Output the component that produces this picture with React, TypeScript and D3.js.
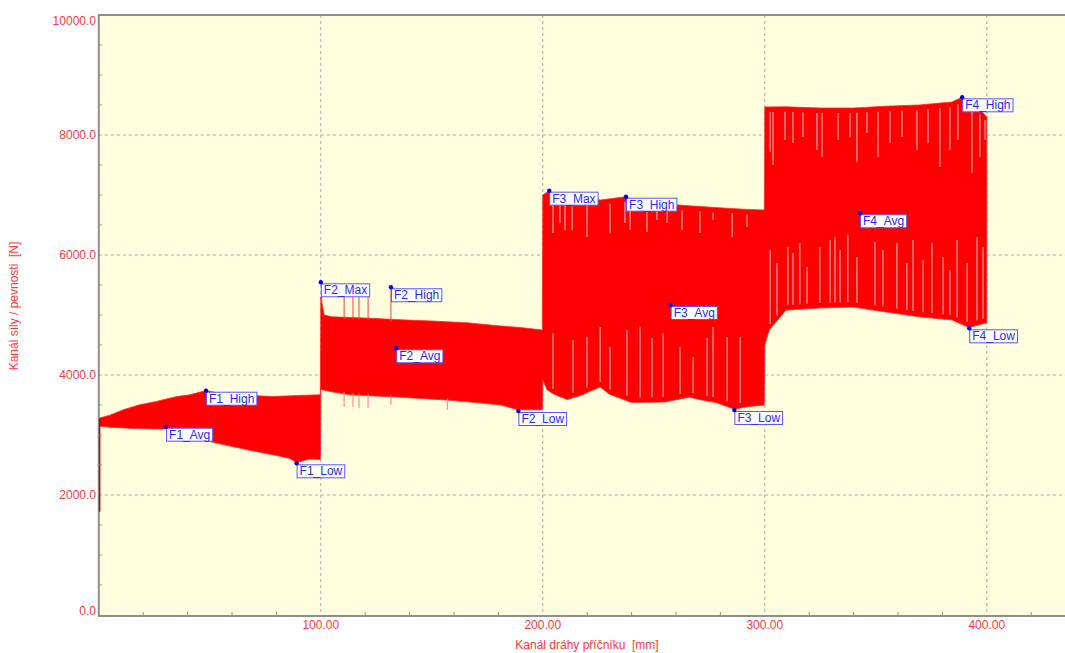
import React from "react";
import * as d3 from "d3";

// Axis ticks
const X_MAJOR_TICKS = [100, 200, 300, 400];
const Y_MAJOR_TICKS = [0, 2000, 4000, 6000, 8000, 10000];
const X_MINOR_STEP = 20;
const Y_MINOR_STEP = 500;

// Envelope of the force signal: [travel mm, force N]
const UPPER_ENVELOPE: [number, number][] = [
  [0.0, 3280], [2, 3300], [5, 3330], [11, 3420], [18, 3500], [26, 3560], [35, 3640], [41, 3670],
  [48.3, 3740], [55, 3690], [64, 3670], [78, 3640], [90, 3660], [99.8, 3670],
  [100.0, 5300], [101.5, 5000], [105, 4970], [120, 4950], [136, 4920], [150, 4900], [166, 4870],
  [180, 4820], [190, 4790], [199.8, 4750],
  [200.0, 7000], [202.9, 7072], [205, 6980], [210, 6950], [226, 6917], [237.5, 6972], [240, 6920],
  [255, 6850], [266, 6820], [278, 6790], [292, 6760], [299.8, 6750],
  [300.0, 8467], [309.5, 8470], [325, 8450], [340, 8450], [354.5, 8480], [369.4, 8500],
  [384.3, 8550], [388.9, 8628], [395, 8500], [400.0, 8300],
];

const LOWER_ENVELOPE: [number, number][] = [
  [0.0, 3150], [5, 3130], [15, 3110], [25, 3100], [30.3, 3100], [35, 3060], [41, 2970], [48, 2910],
  [56, 2840], [70, 2730], [80, 2660], [86, 2610], [89.1, 2540], [95, 2600], [99.8, 2590],
  [100.0, 3760], [105, 3720], [113, 3670], [136, 3630], [158, 3580], [170, 3540], [181, 3500],
  [189, 3420], [199.8, 3420],
  [200.0, 3920], [202, 3750], [205, 3680], [211, 3590], [218, 3670], [222, 3740], [225.8, 3800],
  [230, 3680], [240, 3540], [255, 3550], [266, 3630], [272, 3580], [278, 3540], [286.3, 3430],
  [292, 3470], [299.8, 3500],
  [300.0, 4500], [302, 4750], [309.5, 5080], [324.8, 5117], [339.7, 5133], [354.5, 5050],
  [369.4, 4970], [384.3, 4917], [392, 4790], [400.0, 4870],
];

// Start transient: [travel mm, minimum force N]
const START_DROP: [number, number] = [0.15, 1720];

// Single peaks above the upper envelope: [travel mm, force N]
const UP_SPIKES: [number, number][] = [
  [100.0, 5545], [110.5, 5317], [114.5, 5317], [117.2, 5317], [121.3, 5317], [131.6, 5462],
];

// Single dips below the lower envelope: [travel mm, force N]
const DOWN_SPIKES: [number, number][] = [
  [110.5, 3467], [114.5, 3467], [117.2, 3450], [121.3, 3450], [131.6, 3500], [157, 3420],
];

// Sparse cycles reaching only part way down from the top: [travel mm, force N]
const TOP_GAPS: [number, number][] = [
  [204.6, 6367], [207.7, 6533], [210.0, 6417], [213.2, 6417], [219.9, 6300], [230.3, 6367],
  [237.0, 6533], [239.3, 6417], [246.9, 6383], [251.4, 6583], [256.0, 6533], [262.7, 6417],
  [270.8, 6367], [276.7, 6583], [285.3, 6300], [292.0, 6467],
  [302.4, 7717], [303.7, 7500], [309.1, 7917], [312.7, 7867], [317.2, 7967], [323.5, 7750],
  [325.8, 7633], [333.0, 7917], [338.4, 7967], [341.5, 7550], [346.0, 8033], [351.0, 7633],
  [356.4, 7867], [361.8, 7967], [368.5, 7750], [373.5, 7867], [378.9, 7467], [383.4, 7750],
  [387.0, 7917], [393.3, 7367], [396.9, 7633], [399.2, 7917],
];

// Sparse cycles reaching only part way up from the bottom: [travel mm, force N]
const BOTTOM_GAPS: [number, number][] = [
  [204.6, 4700], [213.6, 4583], [219.9, 4633], [225.8, 4800], [230.3, 4467], [237.9, 4750],
  [243.8, 4800], [249.2, 4617], [254.2, 4700], [261.8, 4467], [267.7, 4300], [274.0, 4617],
  [276.7, 4800], [283.0, 4633], [288.9, 4633],
  [302.4, 6083], [305.5, 5867], [310.4, 6133], [312.7, 6033], [315.8, 6200], [319.0, 5800],
  [324.8, 6133], [329.4, 6250], [331.6, 6300], [333.9, 6083], [337.4, 6333], [341.5, 5967],
  [349.6, 6217], [353.2, 6083], [359.5, 6200], [364.0, 5867], [366.8, 6250], [371.3, 5917],
  [375.3, 6200], [380.3, 5967], [383.4, 5750], [386.6, 6250], [391.1, 5867], [395.6, 6300],
  [398.3, 6133],
];

// Evaluation markers
const MARKER_NAMES = [
  "F1_High", "F1_Avg", "F1_Low",
  "F2_Max", "F2_High", "F2_Avg", "F2_Low",
  "F3_Max", "F3_High", "F3_Avg", "F3_Low",
  "F4_High", "F4_Avg", "F4_Low",
];
const MARKER_X = [48.3, 30.3, 89.1, 100.0, 131.6, 134.0, 189.0, 202.9, 237.5, 257.6, 286.3, 388.9, 342.9, 392.1];
const MARKER_Y = [3738, 3138, 2528, 5545, 5462, 4445, 3400, 7072, 6972, 5167, 3417, 8628, 6695, 4778];

const X_TITLE = "Kanál dráhy příčníku  [mm]";
const Y_TITLE = "Kanál síly / pevnosti  [N]";

const W = 1065;
const H = 653;
const FONT = "'Liberation Sans', Arial, Helvetica, sans-serif";
const LABEL_RED = "#ff3a3a";
const GRID = "#a8a8a8";
const AXIS = "#8e8e8e";

let measureCtx: CanvasRenderingContext2D | null = null;
function textWidth(s: string, size: number): number {
  if (!measureCtx) {
    const c = document.createElement("canvas");
    measureCtx = c.getContext("2d");
  }
  if (!measureCtx) return s.length * size * 0.6;
  measureCtx.font = `${size}px 'Liberation Sans', Arial, sans-serif`;
  return measureCtx.measureText(s).width;
}

function interp(env: [number, number][], x: number): number {
  const xs = env.map((d) => d[0]);
  const i = d3.bisectRight(xs, x);
  if (i <= 0) return env[0][1];
  if (i >= env.length) return env[env.length - 1][1];
  const [x0, y0] = env[i - 1];
  const [x1, y1] = env[i];
  if (x1 === x0) return y1;
  return y0 + ((y1 - y0) * (x - x0)) / (x1 - x0);
}

export default function App() {
  const left = 98.8;
  const top = 15;
  const bottom = 615;
  const x = d3.scaleLinear().domain([0, 436]).range([left, left + 436 * 2.22]);
  const y = d3.scaleLinear().domain([0, 10000]).range([bottom, top]);

  const line = d3
    .line<[number, number]>()
    .x((d) => x(d[0]))
    .y((d) => y(d[1]));

  const bandPoints: [number, number][] = [...UPPER_ENVELOPE, ...[...LOWER_ENVELOPE].reverse()];
  const bandPath = (line(bandPoints) || "") + "Z";

  const xMinor = d3.range(0, 436, X_MINOR_STEP).filter((v) => !X_MAJOR_TICKS.includes(v) && v > 0);
  const yMinor = d3.range(0, 10000, Y_MINOR_STEP).filter((v) => v % 2000 !== 0);

  const fmtX = d3.format(".2f");
  const fmtY = d3.format(".1f");

  return (
    <svg
      width={W}
      height={H}
      style={{ position: "absolute", left: 0, top: 0, background: "#ffffff" }}
      fontFamily={FONT}
    >
      {/* plot background */}
      <rect x={left} y={top} width={W - left} height={bottom - top + 1} fill="#ffffe0" />

      {/* grid */}
      {X_MAJOR_TICKS.map((v) => (
        <line key={"gx" + v} x1={x(v)} x2={x(v)} y1={top} y2={bottom} stroke={GRID} strokeDasharray="3,3" />
      ))}
      {Y_MAJOR_TICKS.filter((v) => v > 0 && v < 10000).map((v) => (
        <line key={"gy" + v} x1={left} x2={W} y1={y(v)} y2={y(v)} stroke={GRID} strokeDasharray="3,3" />
      ))}

      {/* signal band */}
      <path d={bandPath} fill="#ff0000" stroke="#ff2a2a" strokeWidth={0.8} strokeLinejoin="round" />

      {/* partial cycles inside the band */}
      {TOP_GAPS.map(([gx, gy], i) => (
        <line
          key={"tg" + i}
          x1={x(gx)}
          x2={x(gx)}
          y1={y(interp(UPPER_ENVELOPE, gx)) + 5}
          y2={y(gy)}
          stroke="#ff9494"
          strokeWidth={1.3}
        />
      ))}
      {BOTTOM_GAPS.map(([gx, gy], i) => (
        <line
          key={"bg" + i}
          x1={x(gx)}
          x2={x(gx)}
          y1={y(interp(LOWER_ENVELOPE, gx)) - 5}
          y2={y(gy)}
          stroke="#ff9494"
          strokeWidth={1.3}
        />
      ))}

      {/* isolated peaks and dips */}
      {UP_SPIKES.map(([sx, sy], i) => (
        <line
          key={"us" + i}
          x1={x(sx) + (i === 0 ? 1 : 0)}
          x2={x(sx) + (i === 0 ? 1 : 0)}
          y1={y(interp(UPPER_ENVELOPE, sx + (i === 0 ? 0.3 : 0))) + 2}
          y2={y(sy)}
          stroke="#ff3c3c"
          strokeWidth={1}
        />
      ))}
      {DOWN_SPIKES.map(([sx, sy], i) => (
        <line
          key={"ds" + i}
          x1={x(sx)}
          x2={x(sx)}
          y1={y(interp(LOWER_ENVELOPE, sx)) - 2}
          y2={y(sy)}
          stroke="#ff7a7a"
          strokeWidth={1}
        />
      ))}

      {/* axes */}
      <line x1={left} x2={W} y1={top} y2={top} stroke={AXIS} strokeWidth={2} />
      <line x1={left} x2={W} y1={bottom + 1} y2={bottom + 1} stroke={AXIS} strokeWidth={2} />
      <line x1={left} x2={left} y1={top - 1} y2={bottom + 2} stroke={AXIS} strokeWidth={2} />

      {/* start transient over the axis line */}
      <line
        x1={x(START_DROP[0]) + 0.5}
        x2={x(START_DROP[0]) + 0.5}
        y1={y(interp(UPPER_ENVELOPE, 0))}
        y2={y(START_DROP[1])}
        stroke="#c80000"
        strokeWidth={1.5}
      />

      {/* minor ticks */}
      {xMinor.map((v) => (
        <line key={"mx" + v} x1={x(v)} x2={x(v)} y1={bottom} y2={bottom - 3} stroke={AXIS} />
      ))}
      {yMinor.map((v) => (
        <line key={"my" + v} x1={left} x2={left + 3} y1={y(v)} y2={y(v)} stroke={AXIS} />
      ))}

      {/* tick labels */}
      {X_MAJOR_TICKS.map((v) => (
        <text key={"lx" + v} x={x(v)} y={629} textAnchor="middle" fontSize={12} fill={LABEL_RED}>
          {fmtX(v)}
        </text>
      ))}
      {Y_MAJOR_TICKS.map((v) => {
        const cy = Math.min(Math.max(y(v), top + 6), bottom - 4);
        return (
          <text key={"ly" + v} x={96} y={cy + 4.3} textAnchor="end" fontSize={12} fill={LABEL_RED}>
            {fmtY(v)}
          </text>
        );
      })}

      {/* axis titles */}
      <text x={587} y={649} textAnchor="middle" fontSize={12} fill={LABEL_RED} style={{ whiteSpace: "pre" }}>
        {X_TITLE}
      </text>
      <text
        transform={`translate(18, 306) rotate(-90)`}
        textAnchor="middle"
        fontSize={12}
        fill={LABEL_RED}
        style={{ whiteSpace: "pre" }}
      >
        {Y_TITLE}
      </text>

      {/* markers */}
      {MARKER_NAMES.map((name, i) => {
        const px = x(MARKER_X[i]);
        const py = y(MARKER_Y[i]);
        const tw = textWidth(name, 12);
        return (
          <g key={name}>
            <rect
              x={px + 0.5}
              y={py + 1.5}
              width={tw + 5}
              height={13}
              fill="#ffffff"
              stroke="#5555ff"
              strokeWidth={1}
            />
            <text x={px + 3} y={py + 12} fontSize={12} fill="#2a2aff">
              {name}
            </text>
            <circle cx={px} cy={py} r={2.2} fill="#0000ff" />
          </g>
        );
      })}
    </svg>
  );
}
